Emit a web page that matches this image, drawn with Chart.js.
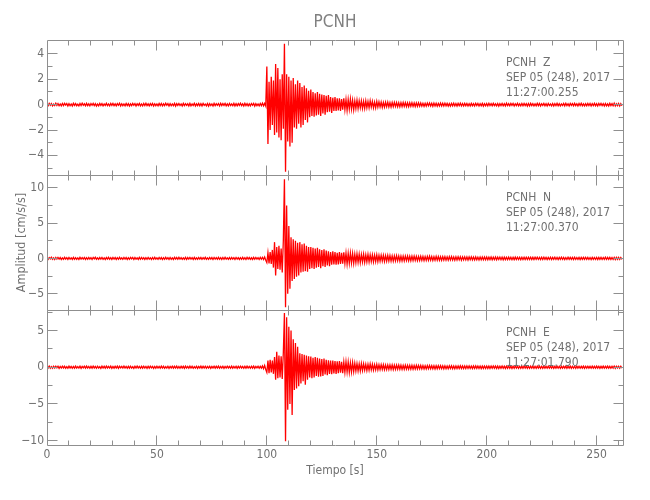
<!DOCTYPE html>
<html><head><meta charset="utf-8">
<script src="https://cdn.jsdelivr.net/npm/chart.js@4.4.1/dist/chart.umd.min.js"></script>
<style>
html,body{margin:0;padding:0;background:#fff;}
#wrap{position:relative;width:650px;height:500px;overflow:hidden;background:#fff;}
#wrap canvas{position:absolute;left:0;}
</style></head><body>
<div id="wrap">
<canvas id="c1" width="650" height="180" style="top:0px"></canvas>
<canvas id="c2" width="650" height="145" style="top:170px"></canvas>
<canvas id="c3" width="650" height="195" style="top:305px"></canvas>
</div>
<script>
// ---------------- data ----------------
const stationName = 'PCNH';
const components = ['Z', 'N', 'E'];
const dateLabel = 'SEP 05 (248), 2017';
const startTimes = ['11:27:00.255', '11:27:00.370', '11:27:01.790'];
const xTitle = 'Tiempo [s]';
const yTitle = 'Amplitud [cm/s/s]';

// trace, one value every 0.5 s starting at 0 s
// pre-event: 0-99.5 s, event: 100-169.5 s, coda: 170-261.5 s
const traceStart = 0, sampleStep = 0.5;
const xRange = [0, 262];
const xMajorStep = 50, xMinorStep = 10;

const zPre = [.06,-.08,.1,-.05,.09,-.1,.04,-.07,.11,-.06,.08,-.09,.05,-.1,.09,-.07,.1,-.04,.08,-.1,
.07,-.09,.05,-.11,.1,-.06,.08,-.08,.04,-.1,.09,-.07,.11,-.05,.07,-.09,.1,-.08,.06,-.1,
.09,-.05,.1,-.08,.07,-.11,.05,-.09,.1,-.06,.08,-.1,.06,-.07,.11,-.08,.05,-.1,.09,-.06,
.1,-.08,.06,-.09,.08,-.05,.11,-.1,.07,-.08,.05,-.09,.1,-.07,.08,-.11,.06,-.08,.1,-.05,
.08,-.1,.07,-.06,.1,-.09,.05,-.1,.09,-.07,.11,-.08,.06,-.09,.08,-.06,.1,-.1,.07,-.08,
.05,-.09,.1,-.07,.09,-.1,.06,-.08,.11,-.05,.08,-.1,.07,-.09,.05,-.08,.1,-.11,.08,-.06,
.09,-.07,.06,-.1,.1,-.08,.08,-.05,.07,-.1,.1,-.09,.05,-.07,.11,-.1,.06,-.08,.09,-.09,
.07,-.1,.1,-.06,.05,-.09,.09,-.11,.08,-.07,.06,-.1,.1,-.08,.07,-.05,.09,-.1,.11,-.07,
.08,-.06,.1,-.09,.06,-.1,.09,-.07,.05,-.08,.1,-.1,.07,-.09,.08,-.06,.11,-.08,.06,-.1,
.1,-.07,.08,-.1,.06,-.09,.09,-.05,.1,-.11,.07,-.08,.05,-.1,.09,-.08,.12,-.09,.1,-.12];
const zEvent = [3.0,-3.1,1.8,-2.0,2.2,-1.6,1.9,-2.4,3.2,-2.2,
2.9,-2.6,2.0,-2.8,2.4,-1.9,4.8,-5.3,2.4,-2.9,
2.2,-3.3,1.9,-3.0,2.1,-1.8,1.6,-1.9,1.9,-1.5,
1.7,-1.8,1.4,-1.6,1.5,-1.2,1.3,-1.4,1.1,-1.0,
1.2,-0.9,1.0,-0.95,0.9,-0.85,1.0,-0.8,0.85,-0.9,
0.8,-0.7,0.75,-0.8,0.7,-0.6,0.75,-0.55,0.6,-0.65,
0.55,-0.5,0.6,-0.5,0.5,-0.45,0.5,-0.5,0.45,-0.4,
0.5,-0.4,0.4,-0.45,0.4,-0.35,0.45,-0.35,0.35,-0.4,
0.3,-0.3,0.35,-0.3,0.3,-0.25,0.3,-0.3,0.25,-0.3,
0.3,-0.25,0.25,-0.25,0.3,-0.2,0.25,-0.25,0.2,-0.25,
0.25,-0.2,0.22,-0.18,0.2,-0.22,0.17,-0.2,0.19,-0.17,
0.2,-0.18,0.16,-0.19,0.17,-0.16,0.18,-0.15,0.17,-0.16,
0.15,-0.17,0.16,-0.15,0.17,-0.14,0.16,-0.15,0.14,-0.16,
0.15,-0.13,0.15,-0.14,0.13,-0.15,0.14,-0.13,0.14,-0.12];
const zCoda = [.13,-.12,.1,-.13,.11,-.12,.13,-.09,.12,-.11,.1,-.13,.12,-.1,.11,-.12,.09,-.11,.12,-.1,
.11,-.1,.12,-.09,.1,-.11,.08,-.12,.1,-.09,.11,-.1,.09,-.11,.1,-.08,.11,-.1,.09,-.1,
.1,-.08,.09,-.11,.07,-.1,.1,-.09,.08,-.1,.11,-.07,.09,-.1,.08,-.09,.1,-.11,.07,-.09,
.09,-.1,.11,-.07,.08,-.09,.1,-.08,.06,-.1,.09,-.11,.08,-.07,.1,-.09,.07,-.1,.11,-.08,
.08,-.09,.1,-.06,.09,-.1,.07,-.08,.11,-.09,.06,-.1,.09,-.08,.1,-.07,.08,-.11,.09,-.1,
.1,-.07,.08,-.1,.06,-.09,.11,-.08,.09,-.1,.07,-.06,.1,-.09,.08,-.1,.09,-.07,.06,-.1,
.09,-.11,.07,-.08,.1,-.09,.08,-.1,.06,-.07,.1,-.09,.11,-.08,.07,-.1,.09,-.06,.08,-.09,
.1,-.08,.07,-.1,.09,-.07,.11,-.09,.06,-.1,.08,-.09,.1,-.07,.09,-.11,.07,-.08,.1,-.09,
.08,-.1,.09,-.06,.1,-.08,.07,-.11,.09,-.09,.06,-.1,.1,-.07,.08,-.09,.11,-.1,.07,-.08,
.09,-.1,.08,-.09];

const nPre = [.1,-.14,.12,-.08,.15,-.12,.07,-.15,.13,-.1,.14,-.09,.12,-.15,.08,-.13,.15,-.11,.1,-.14,
.13,-.1,.09,-.15,.14,-.12,.11,-.13,.08,-.14,.15,-.1,.12,-.09,.13,-.15,.1,-.12,.14,-.11,
.11,-.15,.13,-.08,.15,-.12,.09,-.14,.12,-.1,.14,-.13,.08,-.15,.12,-.1,.15,-.12,.1,-.14,
.14,-.09,.12,-.15,.1,-.13,.15,-.11,.09,-.14,.13,-.1,.12,-.15,.11,-.12,.14,-.08,.13,-.15,
.12,-.11,.08,-.14,.15,-.12,.13,-.09,.11,-.15,.1,-.13,.14,-.11,.09,-.15,.13,-.12,.15,-.1,
.09,-.13,.14,-.1,.12,-.15,.11,-.12,.15,-.09,.1,-.14,.13,-.12,.08,-.15,.14,-.11,.12,-.13,
.15,-.1,.11,-.14,.09,-.12,.14,-.15,.12,-.1,.13,-.11,.1,-.15,.15,-.13,.09,-.12,.14,-.1,
.12,-.14,.1,-.11,.15,-.13,.08,-.14,.13,-.1,.12,-.15,.14,-.09,.11,-.13,.15,-.12,.1,-.14,
.13,-.12,.15,-.1,.09,-.14,.12,-.13,.14,-.11,.1,-.15,.13,-.09,.12,-.14,.11,-.12,.15,-.13,
.1,-.15,.14,-.11,.12,-.13,.09,-.14,.15,-.12,.13,-.1,.11,-.15,.14,-.12,.16,-.15,.2,-.25];
const nEvent = [-0.6,0.8,-0.7,0.9,-0.8,1.2,-1.3,2.3,-2.4,1.6,
-1.5,1.8,-1.6,1.4,-2.0,2.5,11.2,-6.9,7.5,-5.0,
4.6,-4.3,3.0,-3.2,2.7,-2.9,2.5,-2.6,2.2,-2.4,
2.3,-2.0,2.0,-1.9,2.1,-1.8,1.8,-1.9,1.6,-1.5,
1.6,-1.4,1.5,-1.5,1.4,-1.3,1.5,-1.2,1.3,-1.4,
1.2,-1.1,1.3,-1.2,1.1,-1.0,1.0,-1.1,0.9,-0.9,
1.0,-0.85,0.9,-0.9,0.8,-0.85,0.9,-0.8,0.8,-0.75,
0.85,-0.7,0.75,-0.8,0.7,-0.7,0.75,-0.65,0.7,-0.7,
0.6,-0.6,0.65,-0.55,0.6,-0.6,0.55,-0.5,0.6,-0.55,
0.5,-0.5,0.55,-0.5,0.5,-0.45,0.5,-0.5,0.45,-0.45,
0.5,-0.45,0.42,-0.4,0.45,-0.38,0.43,-0.42,0.38,-0.4,
0.41,-0.37,0.4,-0.38,0.36,-0.39,0.35,-0.36,0.38,-0.34,
0.35,-0.36,0.33,-0.35,0.32,-0.34,0.33,-0.31,0.34,-0.32,
0.3,-0.33,0.31,-0.3,0.32,-0.29,0.3,-0.31,0.28,-0.3];
const nCoda = [.3,-.28,.27,-.3,.25,-.29,.28,-.26,.3,-.25,.27,-.28,.24,-.27,.28,-.25,.26,-.27,.24,-.26,
.25,-.23,.26,-.24,.22,-.25,.24,-.22,.25,-.23,.21,-.24,.23,-.22,.24,-.21,.23,-.24,.22,-.2,
.22,-.21,.2,-.23,.21,-.19,.22,-.2,.19,-.22,.21,-.2,.18,-.21,.2,-.19,.21,-.18,.2,-.19,
.19,-.2,.18,-.17,.2,-.19,.17,-.18,.19,-.2,.18,-.16,.19,-.18,.17,-.19,.18,-.17,.16,-.18,
.18,-.16,.17,-.18,.15,-.17,.18,-.16,.17,-.15,.16,-.18,.17,-.16,.15,-.17,.16,-.15,.17,-.16,
.16,-.17,.15,-.16,.17,-.14,.16,-.15,.14,-.17,.16,-.15,.17,-.14,.15,-.16,.14,-.15,.16,-.17,
.15,-.14,.16,-.15,.14,-.16,.15,-.13,.16,-.15,.14,-.16,.13,-.15,.16,-.14,.15,-.13,.14,-.16,
.16,-.15,.13,-.14,.15,-.16,.14,-.13,.15,-.14,.16,-.13,.14,-.15,.13,-.16,.15,-.14,.13,-.15,
.14,-.16,.15,-.13,.14,-.15,.13,-.14,.16,-.15,.14,-.13,.15,-.14,.13,-.15,.14,-.16,.15,-.13,
.14,-.15,.13,-.14];

const ePre = [.12,-.1,.15,-.13,.09,-.14,.12,-.11,.15,-.08,.13,-.15,.1,-.12,.14,-.1,.12,-.15,.09,-.13,
.15,-.1,.12,-.14,.11,-.13,.15,-.12,.08,-.11,.14,-.15,.12,-.09,.13,-.12,.15,-.11,.1,-.14,
.12,-.13,.15,-.1,.11,-.14,.13,-.12,.09,-.15,.14,-.11,.12,-.13,.15,-.1,.11,-.12,.14,-.15,
.1,-.13,.12,-.11,.15,-.14,.13,-.09,.11,-.12,.15,-.12,.1,-.14,.12,-.13,.14,-.11,.09,-.15,
.13,-.1,.15,-.12,.11,-.14,.12,-.13,.14,-.11,.1,-.15,.13,-.12,.14,-.09,.12,-.15,.11,-.13,
.14,-.12,.1,-.13,.15,-.11,.12,-.14,.09,-.12,.13,-.15,.11,-.1,.14,-.13,.12,-.11,.15,-.14,
.11,-.14,.13,-.1,.12,-.15,.14,-.12,.1,-.13,.15,-.11,.12,-.14,.09,-.12,.13,-.15,.11,-.1,
.15,-.13,.12,-.11,.14,-.14,.1,-.12,.13,-.15,.11,-.1,.14,-.13,.12,-.11,.15,-.14,.1,-.12,
.13,-.15,.11,-.12,.14,-.1,.12,-.14,.15,-.13,.1,-.11,.13,-.15,.12,-.12,.14,-.1,.11,-.14,
.12,-.13,.15,-.11,.1,-.14,.13,-.12,.14,-.15,.11,-.1,.13,-.14,.12,-.13,.18,-.2,.25,-.3];
const eEvent = [-0.7,0.9,-0.8,1.0,-0.7,0.9,-0.9,1.4,-1.7,2.1,
-1.5,1.6,-1.4,1.5,-1.6,2.0,7.4,-10.1,6.8,-5.8,
5.5,-5.0,5.0,-6.5,3.8,-3.1,3.3,-2.9,2.8,-2.6,
1.9,-2.2,1.8,-1.9,1.7,-2.4,1.6,-1.7,1.5,-1.4,
1.45,-1.5,1.3,-1.4,1.4,-1.2,1.3,-1.3,1.2,-1.25,
1.1,-1.2,1.2,-1.0,1.0,-1.1,0.95,-0.9,0.9,-0.95,
0.9,-0.85,0.85,-0.9,0.8,-0.8,0.85,-0.75,0.75,-0.8,
0.7,-0.7,0.75,-0.65,0.7,-0.7,0.6,-0.65,0.65,-0.6,
0.55,-0.5,0.5,-0.5,0.45,-0.5,0.5,-0.45,0.45,-0.4,
0.4,-0.45,0.4,-0.4,0.45,-0.35,0.4,-0.4,0.35,-0.35,
0.4,-0.35,0.33,-0.32,0.35,-0.3,0.34,-0.33,0.3,-0.32,
0.31,-0.3,0.32,-0.29,0.3,-0.31,0.28,-0.3,0.29,-0.27,
0.29,-0.28,0.27,-0.29,0.26,-0.27,0.28,-0.25,0.27,-0.26,
0.25,-0.26,0.25,-0.27,0.24,-0.25,0.26,-0.24,0.25,-0.23];
const eCoda = [.24,-.23,.22,-.24,.21,-.23,.22,-.2,.23,-.21,.2,-.22,.21,-.23,.2,-.21,.22,-.19,.21,-.2,
.2,-.21,.19,-.2,.18,-.2,.19,-.18,.2,-.19,.18,-.2,.17,-.19,.18,-.17,.19,-.18,.17,-.19,
.18,-.17,.19,-.16,.18,-.17,.16,-.18,.17,-.16,.18,-.15,.17,-.17,.16,-.18,.15,-.16,.17,-.16,
.17,-.16,.15,-.17,.16,-.15,.17,-.14,.16,-.16,.15,-.17,.14,-.15,.16,-.14,.15,-.16,.14,-.15,
.16,-.14,.15,-.16,.14,-.15,.16,-.13,.15,-.14,.13,-.16,.15,-.14,.16,-.13,.14,-.15,.13,-.14,
.15,-.13,.14,-.15,.13,-.14,.15,-.12,.14,-.15,.13,-.14,.15,-.13,.12,-.14,.15,-.13,.14,-.12,
.14,-.15,.12,-.13,.14,-.14,.13,-.15,.12,-.13,.14,-.12,.15,-.14,.13,-.12,.14,-.15,.13,-.14,
.13,-.14,.15,-.12,.13,-.14,.12,-.13,.14,-.15,.13,-.12,.14,-.13,.12,-.14,.15,-.13,.12,-.14,
.14,-.12,.13,-.15,.12,-.13,.14,-.14,.13,-.12,.15,-.13,.12,-.14,.13,-.12,.14,-.15,.13,-.12,
.13,-.14,.12,-.13];

const yRanges = [[-5.55, 5.1], [-7.3, 11.8], [-10.6, 7.8]];
const yMajorSteps = [2, 5, 5];
const yMinorSteps = [1, 2.5, 2.5];

// ---------------- styles ----------------
const FONT = "'DejaVu Sans Condensed', 'Liberation Sans Narrow', 'Liberation Sans', sans-serif";
const AXIS = '#8f8f8f';
const TEXT = '#707070';
const TRACE = '#ff0000';

function buildSeries(...parts) {
  const pts = [];
  parts.flat().forEach((v, i) => pts.push({x: traceStart + i * sampleStep, y: v}));
  return pts;
}
const traces = [buildSeries(zPre, zEvent, zCoda), buildSeries(nPre, nEvent, nCoda), buildSeries(ePre, eEvent, eCoda)];

const isMultiple = (v, step) => Math.abs(v / step - Math.round(v / step)) < 1e-6;
const fmt = v => String(v).replace('-', '\u2212');

const framePlugin = {
  id: 'panelFrame',
  afterDatasetsDraw(chart, args, o) {
    const {ctx, chartArea: a, scales: {x, y}} = chart;
    ctx.save();
    ctx.strokeStyle = AXIS; ctx.lineWidth = 1;
    const L = Math.floor(a.left) + 0.5, R = Math.floor(a.right) + 0.5;
    const T = Math.floor(a.top) + 0.5, B = Math.floor(a.bottom) + 0.5;
    ctx.beginPath();
    ctx.rect(L, T, R - L, B - T);
    x.ticks.forEach(t => {
      const v = t.value;
      if (!isMultiple(v, xMinorStep)) return;
      const px = Math.floor(x.getPixelForValue(v)) + 0.5;
      if (px <= L + 1 || px >= R - 1) return;
      const len = isMultiple(v, xMajorStep) ? 10 : 5;
      ctx.moveTo(px, T); ctx.lineTo(px, T + len);
      ctx.moveTo(px, B); ctx.lineTo(px, B - len);
    });
    y.ticks.forEach(t => {
      const v = t.value;
      if (!isMultiple(v, o.minor)) return;
      const py = Math.floor(y.getPixelForValue(v)) + 0.5;
      if (py <= T + 1 || py >= B - 1) return;
      const len = isMultiple(v, o.major) ? 10 : 5;
      ctx.moveTo(L, py); ctx.lineTo(L + len, py);
      ctx.moveTo(R, py); ctx.lineTo(R - len, py);
    });
    ctx.stroke();
    // station header
    ctx.fillStyle = TEXT;
    ctx.font = '12px ' + FONT;
    ctx.textAlign = 'left'; ctx.textBaseline = 'middle';
    const lines = [stationName + '  ' + o.comp, dateLabel, o.time];
    lines.forEach((s, i) => ctx.fillText(s, 506, a.top + 23 + i * 15));
    ctx.restore();
  }
};

function noEdgePadding(s) {
  s.paddingTop = 0; s.paddingBottom = 0; s.paddingLeft = 0; s.paddingRight = 0;
}

function makeChart(id, idx, opts) {
  const showX = !!opts.showX;
  return new Chart(document.getElementById(id), {
    type: 'line',
    data: {datasets: [{data: traces[idx], borderColor: TRACE, borderWidth: 1.3,
      pointRadius: 0, pointHoverRadius: 0, pointHitRadius: 0, fill: false, tension: 0}]},
    options: {
      responsive: false, animation: false, events: [],
      parsing: false, normalized: true,
      layout: {padding: opts.padding, autoPadding: false},
      plugins: {
        legend: {display: false}, tooltip: {enabled: false},
        title: opts.title ? {display: true, text: opts.title, fullSize: false, color: '#808080',
          font: {family: FONT, size: 17, weight: 'normal'}, padding: {top: 12, bottom: 7.6}} : {display: false},
        panelFrame: {comp: components[idx], time: startTimes[idx], major: yMajorSteps[idx], minor: yMinorSteps[idx]}
      },
      scales: {
        x: {
          type: 'linear', min: xRange[0], max: xRange[1], display: showX,
          grid: {display: false, drawTicks: false}, border: {display: false},
          ticks: {stepSize: xMinorStep, autoSkip: false, maxRotation: 0, padding: 3, color: TEXT,
            font: {family: FONT, size: 12}, includeBounds: false,
            callback: v => isMultiple(v, xMajorStep) ? fmt(v) : ''},
          title: {display: showX, text: xTitle, color: TEXT, font: {family: FONT, size: 12},
            padding: {top: 0, bottom: 22}},
          afterFit: s => { noEdgePadding(s); if (showX) s.height = 55; }
        },
        y: {
          type: 'linear', min: yRanges[idx][0], max: yRanges[idx][1],
          grid: {display: false, drawTicks: false}, border: {display: false},
          ticks: {stepSize: yMinorSteps[idx], autoSkip: false, padding: 3, color: TEXT,
            font: {family: FONT, size: 12}, includeBounds: false,
            callback: v => isMultiple(v, yMajorSteps[idx]) ? fmt(v) : ''},
          title: {display: !!opts.yTitle, text: yTitle, color: TEXT, font: {family: FONT, size: 12.5},
            padding: {top: 14, bottom: 0}},
          afterFit: s => { noEdgePadding(s); s.width = 47; }
        }
      }
    },
    plugins: [framePlugin]
  });
}

makeChart('c1', 0, {title: stationName, padding: {top: 0, bottom: 5, left: 0, right: 27}});
makeChart('c2', 1, {yTitle: true, padding: {top: 5, bottom: 5, left: 0, right: 27}});
makeChart('c3', 2, {showX: true, padding: {top: 5, bottom: 0, left: 0, right: 27}});
</script>
</body></html>
